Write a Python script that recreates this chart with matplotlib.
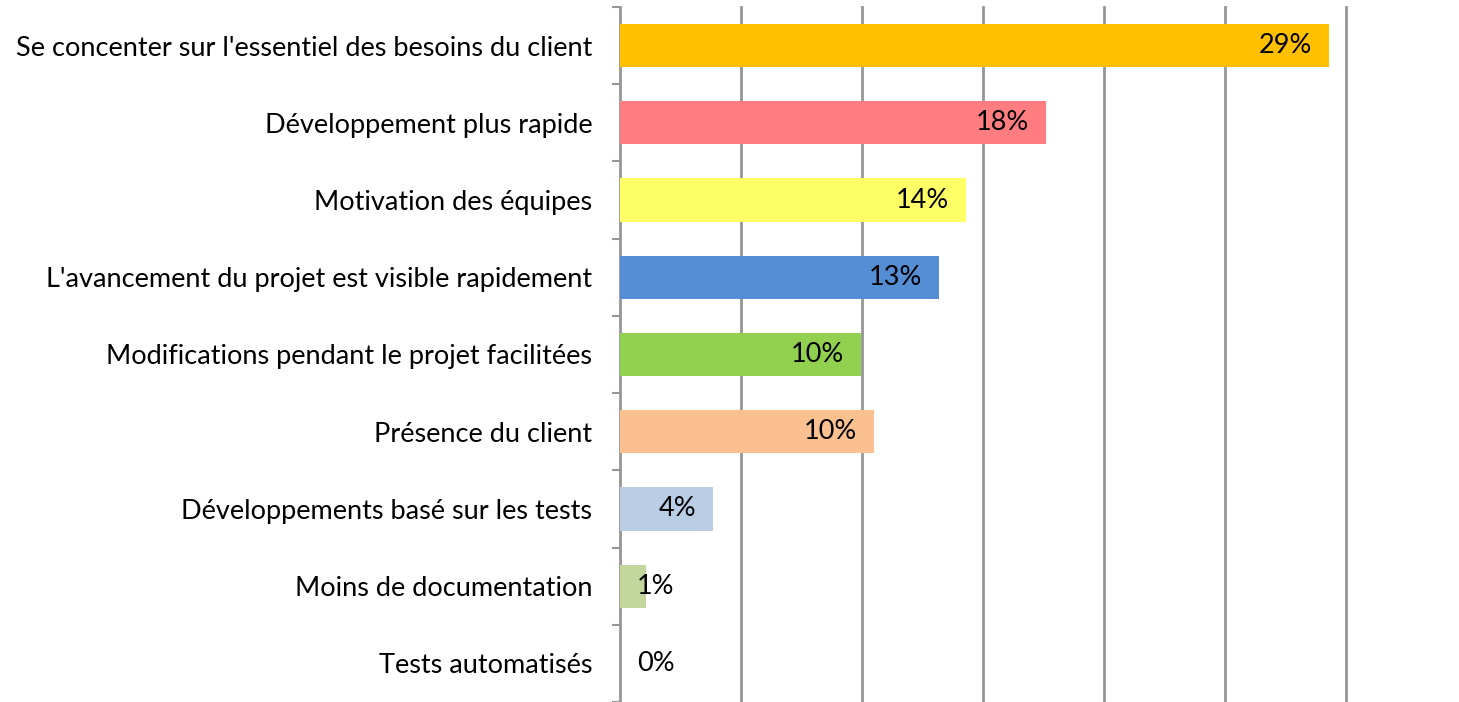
import numpy as np
import matplotlib.pyplot as plt

categories = [
    "Se concenter sur l'essentiel des besoins du client",
    "Développement plus rapide",
    "Motivation des équipes",
    "L'avancement du projet est visible rapidement",
    "Modifications pendant le projet facilitées",
    "Présence du client",
    "Développements basé sur les tests",
    "Moins de documentation",
    "Tests automatisés",
]
values = [29.3, 17.6, 14.3, 13.2, 9.96, 10.5, 3.84, 1.07, 0.0]
labels = ["29%", "18%", "14%", "13%", "10%", "10%", "4%", "1%", "0%"]
colors = ["#FFC000", "#FF7C80", "#FFFF66", "#558ED5", "#92D050",
          "#FAC090", "#B9CDE5", "#C3D69B", "#C3D69B"]

plt.rcParams['font.family'] = ['Lato', 'DejaVu Sans']

fig = plt.figure(figsize=(14.59, 7.02), dpi=100)
ax = fig.add_axes([620 / 1459, 0.0, (1346 - 620) / 1459, (702 - 7) / 702])

n = len(categories)
y = np.arange(n)
ax.barh(y, values, height=0.56, color=colors, zorder=3)

ax.set_xlim(0, 30)
ax.set_ylim(n - 0.5, -0.5)

for x in np.arange(5, 31, 5):
    ax.axvline(x, color="#969696", lw=2, zorder=1, clip_on=False)

fs = 19.5
for yi, v, lab in zip(y, values, labels):
    if v < 2:
        ax.text(0.7, yi, lab, ha="left", va="center", fontsize=fs, zorder=4)
    else:
        ax.text(v - 0.7, yi, lab, ha="right", va="center", fontsize=fs, zorder=4)

ax.set_yticks(y)
ax.set_yticklabels(categories, fontsize=fs)
ax.tick_params(axis="y", which="major", length=0, pad=20)
ax.set_yticks(np.arange(-0.5, n, 1), minor=True)
ax.tick_params(axis="y", which="minor", length=6, width=1.5, color="#969696")
ax.set_xticks([])

for s in ["top", "right", "bottom"]:
    ax.spines[s].set_visible(False)
ax.spines["left"].set_color("#969696")
ax.spines["left"].set_linewidth(2)

fig.savefig("out.png", dpi=100)
